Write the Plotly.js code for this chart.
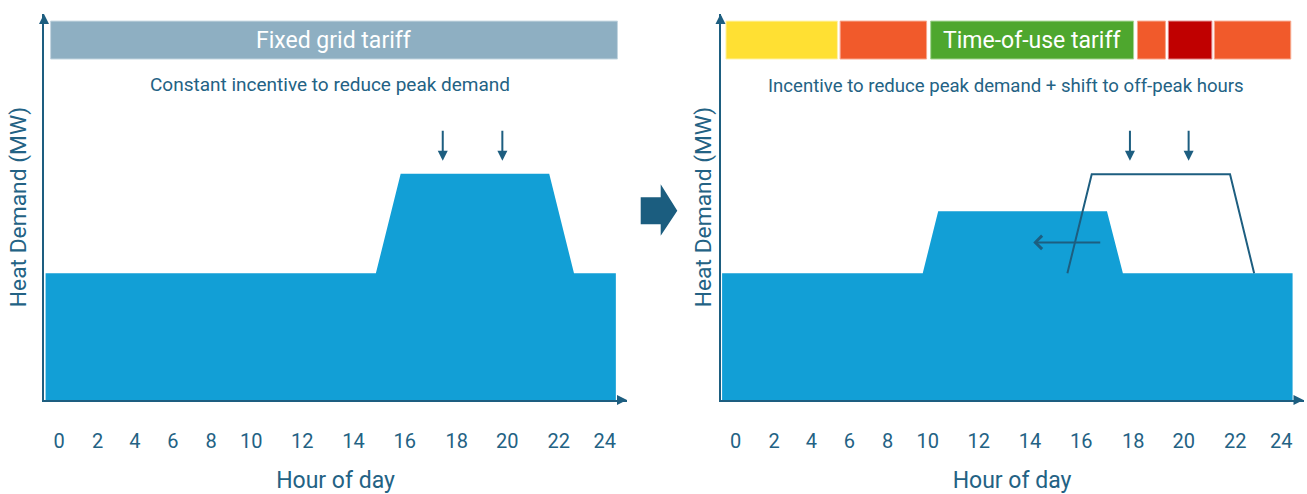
<!DOCTYPE html>
<html>
<head>
<meta charset="utf-8">
<script src="https://cdn.plot.ly/plotly-3.0.1.min.js"></script>
<style>html,body{margin:0;padding:0;background:#fff;}#chart{width:1307px;height:494px;}</style>
</head>
<body>
<div id="chart"></div>
<script>
// ---------- data ----------
const tickLabels = ['0','2','4','6','8','10','12','14','16','18','20','22','24'];
const tickHours  = [0, 1.70, 3.33, 5.00, 6.69, 8.45, 10.69, 12.95, 15.20, 17.48, 19.70, 21.97, 23.99];

// Fixed grid tariff: heat demand profile
const fixedHour   = [-0.59, 13.93, 15.02, 21.55, 22.64, 24.48];
const fixedDemand = [3.94, 3.94, 7.03, 7.03, 3.94, 3.94];

// Time-of-use tariff: shifted heat demand profile
const touHour   = [-0.59, 8.23, 8.91, 16.33, 17.03, 24.49];
const touDemand = [3.94, 3.94, 5.87, 5.87, 3.94, 3.94];

// Original (unshifted) peak drawn as outline
const origPeakHour   = [14.59, 15.66, 21.74, 22.80];
const origPeakDemand = [3.94, 7.02, 7.02, 3.94];

// Downward "reduce peak" arrows
const fixedArrowHour = [16.87, 19.49];
const touArrowHour   = [17.34, 19.92];
const arrowTailDemand = 8.42;
const arrowTipDemand  = 7.44;

// Leftward "shift" arrow
const shiftFromHour = 16.10;
const shiftToHour   = 13.09;
const shiftDemand   = 4.90;

// Tariff bands
const fixedBandStart = [-0.37];
const fixedBandEnd   = [24.55];
const fixedBandLabel = ['Fixed grid tariff'];
const touBandStart = [-0.42, 4.60, 8.58, 17.67, 19.03, 21.05];
const touBandEnd   = [4.48, 8.40, 17.50, 18.90, 20.94, 24.41];
const touBandLevel = ['low', 'high', 'lowest', 'high', 'peak', 'high'];
const touBandLabel = ['', '', 'Time-of-use tariff', '', '', ''];

const subtitles = ['Constant incentive to reduce peak demand',
                   'Incentive to reduce peak demand + shift to off-peak hours'];

// ---------- styles ----------
const FILL = '#129fd6';
const DARK = '#1d5e80';
const TEXT = '#236284';
const levelColor = {low: '#ffe033', high: '#f15a2b', lowest: '#4ea72e', peak: '#c00000', fixed: '#8eafc2'};
const levelEdge  = {low: '#fff3a8', high: '#f7a88e', lowest: '#a6d494', peak: '#e08080', fixed: '#c4d6e0'};
const W = 1307, H = 494;
const px = v => v / W, py = v => 1 - v / H;
const XR = [-0.66, 24.97], YR = [0, 12];
const BAND_LO = 10.60, BAND_HI = 11.78;
const SUB_X = [11.9, 11.9], SUB_Y = [9.82, 9.76];
const font = 'Roboto, "Open Sans", sans-serif';

const traces = [
  {x: fixedHour, y: fixedDemand, xaxis: 'x', yaxis: 'y', type: 'scatter', mode: 'none',
   fill: 'tozeroy', fillcolor: FILL, hoverinfo: 'skip', showlegend: false},
  {x: touHour, y: touDemand, xaxis: 'x2', yaxis: 'y2', type: 'scatter', mode: 'none',
   fill: 'tozeroy', fillcolor: FILL, hoverinfo: 'skip', showlegend: false},
  {x: origPeakHour, y: origPeakDemand, xaxis: 'x2', yaxis: 'y2', type: 'scatter', mode: 'lines',
   line: {color: DARK, width: 2}, hoverinfo: 'skip', showlegend: false}
];

function xax(domain, anchor) {
  return {domain: domain, range: XR, anchor: anchor, showgrid: false, zeroline: false, showline: true,
    linecolor: DARK, linewidth: 2, tickmode: 'array', tickvals: tickHours, ticktext: tickLabels,
    ticks: '', ticklabelstandoff: 22, tickfont: {family: font, size: 20, color: TEXT},
    title: {text: 'Hour of day', font: {family: font, size: 23, color: TEXT}, standoff: 22},
    fixedrange: true};
}
function yax(domain, anchor, standoff) {
  return {domain: domain, range: YR, anchor: anchor, showgrid: false, zeroline: false, showline: true,
    linecolor: DARK, linewidth: 2, showticklabels: false, ticks: '',
    title: {text: 'Heat Demand (MW)', font: {family: font, size: 22.8, color: TEXT}, standoff: standoff},
    fixedrange: true};
}

const shapes = [];
const annotations = [];

function addBands(xref, yref, starts, ends, levels, labels) {
  starts.forEach((s, i) => {
    shapes.push({type: 'rect', xref: xref, yref: yref, x0: s, x1: ends[i], y0: BAND_LO, y1: BAND_HI,
      fillcolor: levelColor[levels[i]], line: {color: levelEdge[levels[i]], width: 1}, layer: 'above'});
    if (labels[i]) {
      annotations.push({xref: xref, yref: yref, x: (s + ends[i]) / 2, y: (BAND_LO + BAND_HI) / 2,
        text: labels[i], showarrow: false, font: {family: font, size: 23, color: '#ffffff'}});
    }
  });
}
addBands('x', 'y', fixedBandStart, fixedBandEnd, ['fixed'], fixedBandLabel);
addBands('x2', 'y2', touBandStart, touBandEnd, touBandLevel, touBandLabel);

// subtitles
annotations.push({xref: 'x', yref: 'y', x: SUB_X[0], y: SUB_Y[0], text: subtitles[0], showarrow: false,
  font: {family: font, size: 19, color: TEXT}});
annotations.push({xref: 'x2', yref: 'y2', x: SUB_X[1], y: SUB_Y[1], text: subtitles[1], showarrow: false,
  font: {family: font, size: 18.6, color: TEXT}});

// down arrows
function downArrows(xref, yref, hours) {
  hours.forEach(h => annotations.push({xref: xref, yref: yref, axref: xref, ayref: yref,
    x: h, y: arrowTipDemand, ax: h, ay: arrowTailDemand, text: '', showarrow: true,
    arrowhead: 2, arrowsize: 1, arrowwidth: 2, arrowcolor: DARK}));
}
downArrows('x', 'y', fixedArrowHour);
downArrows('x2', 'y2', touArrowHour);

// shift arrow
annotations.push({xref: 'x2', yref: 'y2', axref: 'x2', ayref: 'y2', x: shiftToHour, y: shiftDemand,
  ax: shiftFromHour, ay: shiftDemand, text: '', showarrow: true, arrowhead: 4, arrowsize: 1.3,
  arrowwidth: 2, arrowcolor: DARK});

// axis arrowheads
[['x', 'y'], ['x2', 'y2']].forEach(([xr, yr]) => {
  annotations.push({xref: xr, yref: yr, x: XR[0], y: YR[1], ax: 0, ay: 10, text: '', showarrow: true,
    arrowhead: 2, arrowsize: 1, arrowwidth: 2, arrowcolor: DARK, standoff: 0});
  annotations.push({xref: xr, yref: yr, x: XR[1], y: YR[0], ax: -10, ay: 0, text: '', showarrow: true,
    arrowhead: 2, arrowsize: 1, arrowwidth: 2, arrowcolor: DARK, standoff: 0});
});

// block arrow between panels (decoration)
const blk = [[640.7,197.3],[660.7,197.3],[660.7,184.3],[677.3,210.7],[660.7,235.7],[660.7,224.3],[640.7,224.3]];
shapes.push({type: 'path', xref: 'paper', yref: 'paper',
  path: 'M' + blk.map(p => px(p[0]).toFixed(5) + ',' + py(p[1]).toFixed(5)).join(' L') + ' Z',
  fillcolor: '#1b5d7f', line: {width: 0}});

const yDom = [py(400), py(14)];
const layout = {
  width: W, height: H, margin: {l: 0, r: 0, t: 0, b: 0},
  paper_bgcolor: '#ffffff', plot_bgcolor: 'rgba(0,0,0,0)', showlegend: false,
  xaxis: xax([px(44), px(627)], 'y'),
  yaxis: yax(yDom, 'x', 9),
  xaxis2: xax([px(720.5), px(1303.5)], 'y2'),
  yaxis2: yax(yDom, 'x2', 1),
  shapes: shapes, annotations: annotations
};

Plotly.newPlot('chart', traces, layout, {staticPlot: true, displayModeBar: false});
</script>
</body>
</html>
